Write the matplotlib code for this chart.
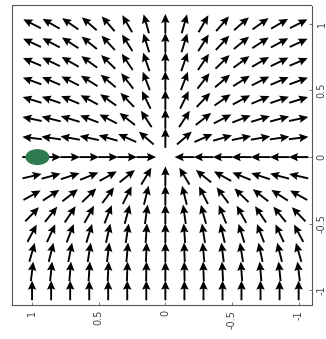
import numpy as np
import matplotlib
matplotlib.use('Agg')
import matplotlib.pyplot as plt
from matplotlib.patches import Ellipse

# grid coordinates (same on both axes), listed from left/top to right/bottom on screen
grid_vals = [1.0, 0.857, 0.714, 0.571, 0.429, 0.286, 0.143, 0.0,
             -0.143, -0.286, -0.429, -0.571, -0.714, -0.857, -1.0]

nan = float('nan')
# arrow direction on screen (degrees, counter-clockwise from rightwards), rows top->bottom
angle_rows = [
    [153, 150, 145, 139, 131, 120, 106, 90, 74, 60, 49, 41, 35, 30, 27],
    [155, 152, 147, 141, 133, 122, 107, 90, 73, 58, 47, 39, 33, 28, 25],
    [157, 154, 150, 144, 136, 124, 109, 90, 71, 56, 44, 36, 30, 26, 23],
    [160, 157, 153, 148, 140, 128, 111, 90, 69, 52, 40, 32, 27, 23, 20],
    [163, 161, 157, 152, 145, 134, 116, 90, 64, 46, 35, 28, 23, 19, 17],
    [168, 166, 163, 159, 153, 142, 123, 90, 57, 38, 27, 21, 17, 15, 12],
    [173, 172, 170, 168, 164, 156, 139, 90, 41, 24, 16, 12, 10, 8, 7],
    [0, 0, 0, 0, 0, 0, 0, nan, 180, 180, 180, 180, 180, 180, 180],
    [13, 15, 18, 22, 29, 39, 59, 90, 121, 141, 151, 158, 162, 165, 167],
    [29, 33, 38, 44, 53, 63, 76, 90, 104, 117, 127, 136, 142, 147, 151],
    [46, 51, 56, 61, 68, 75, 82, 90, 98, 105, 112, 119, 124, 129, 134],
    [62, 65, 69, 73, 77, 81, 86, 90, 94, 99, 103, 107, 111, 115, 118],
    [74, 76, 79, 81, 83, 85, 88, 90, 92, 95, 97, 99, 102, 104, 106],
    [83, 84, 85, 86, 87, 88, 89, 90, 91, 92, 93, 94, 95, 96, 97],
    [90, 90, 90, 90, 90, 90, 90, 90, 90, 90, 90, 90, 90, 90, 90],
]

tick_vals = [1, 0.5, 0, -0.5, -1]
tick_labels = ['1', '0.5', '0', '-0.5', '-1']

marker_center = (0.96, 0.0)
marker_size = (0.18, 0.12)
marker_color = '#2f7a4e'

fig = plt.figure(figsize=(3.26, 3.39), dpi=100)
ax = fig.add_axes([0.037, 0.100, 0.920, 0.885])

gx = np.array(grid_vals)
A, B = np.meshgrid(gx, gx)
ang = np.radians(np.array(angle_rows, dtype=float))
U = np.ma.masked_invalid(np.cos(ang))
V = np.ma.masked_invalid(np.sin(ang))

ax.quiver(A, B, U, V, angles='uv', pivot='mid', units='inches',
          scale_units='inches', scale=5.1, width=0.019,
          headwidth=4.4, headlength=4.8, headaxislength=4.2,
          color='black', zorder=2)

ax.add_patch(Ellipse(marker_center, marker_size[0], marker_size[1],
                     facecolor=marker_color, edgecolor='none', zorder=3))

ax.set_xlim(1.15, -1.10)
ax.set_ylim(-1.11, 1.14)

ax.set_xticks(tick_vals)
ax.set_xticklabels(tick_labels, rotation=90, fontsize=7, color='#444444')
ax.yaxis.tick_right()
ax.set_yticks(tick_vals)
ax.set_yticklabels(tick_labels, rotation=90, fontsize=7, color='#444444', va='center')
ax.tick_params(direction='in', length=2, width=0.6, colors='#666666', labelcolor='#444444')

for s in ax.spines.values():
    s.set_linewidth(0.8)
    s.set_color('#555555')
    s.set_linestyle((0, (2, 1)))

fig.savefig('out.png', dpi=100)
